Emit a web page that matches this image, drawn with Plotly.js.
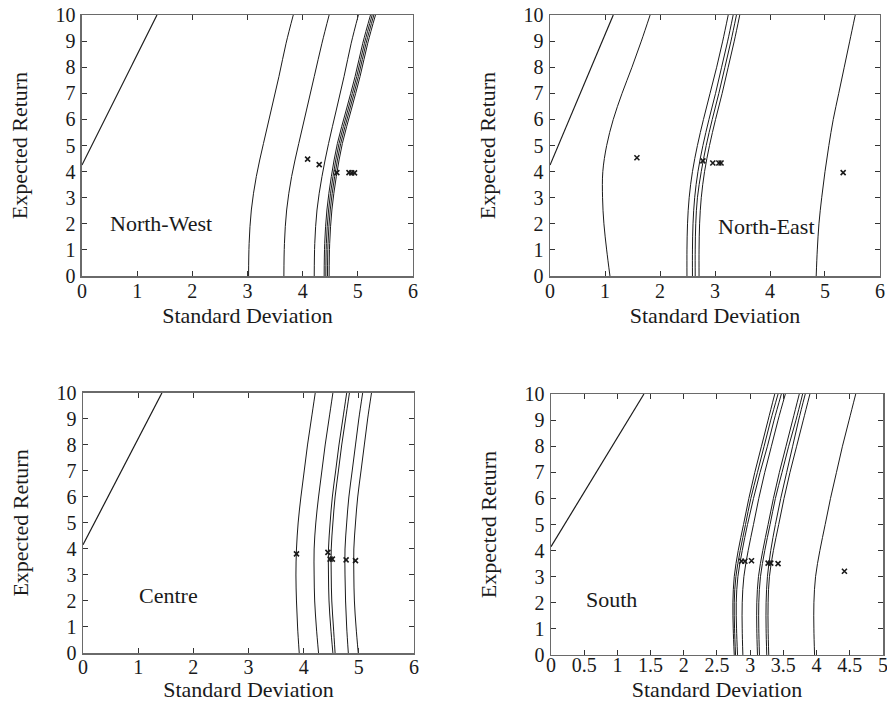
<!DOCTYPE html>
<html>
<head>
<meta charset="utf-8">
<script src="https://cdn.plot.ly/plotly-3.0.1.min.js"></script>
<style>html,body{margin:0;padding:0;background:#fff;}#chart{width:887px;height:702px;}</style>
</head>
<body>
<div id="chart"></div>
<script>
// ---------- North-West ----------
const MU_NW = [0, 1.25, 2.53, 3.81, 5.08, 6.36, 7.64, 8.92, 10];
const NW_1 = [3.02, 3.03, 3.07, 3.16, 3.29, 3.43, 3.57, 3.70, 3.83];
const NW_2 = [3.66, 3.67, 3.71, 3.80, 3.93, 4.07, 4.21, 4.35, 4.48];
const NW_3 = [4.21, 4.22, 4.26, 4.35, 4.47, 4.61, 4.75, 4.88, 5.01];
const NW_4 = [4.39, 4.40, 4.44, 4.52, 4.63, 4.79, 4.95, 5.09, 5.23];
const NW_5 = [4.42, 4.43, 4.47, 4.55, 4.66, 4.82, 4.98, 5.12, 5.26];
const NW_6 = [4.45, 4.46, 4.50, 4.58, 4.69, 4.85, 5.01, 5.15, 5.29];
const NW_7 = [4.48, 4.49, 4.53, 4.61, 4.72, 4.88, 5.04, 5.18, 5.32];
const NW_CML_SD = [0, 1.36];
const NW_CML_RET = [4.25, 10];
const NW_PT_SD = [4.09, 4.30, 4.62, 4.84, 4.89, 4.94];
const NW_PT_RET = [4.48, 4.27, 3.96, 3.96, 3.95, 3.95];

// ---------- North-East ----------
const MU_NE = [0, 1, 2, 3, 4, 5, 6, 7, 8, 9, 10];
const NE_1 = [1.09, 1.03, 0.98, 0.955, 0.96, 1.03, 1.15, 1.31, 1.49, 1.66, 1.82];
const NE_2 = [2.49, 2.49, 2.50, 2.53, 2.59, 2.68, 2.79, 2.91, 3.03, 3.14, 3.24];
const NE_3 = [2.59, 2.59, 2.60, 2.63, 2.69, 2.78, 2.89, 3.01, 3.12, 3.23, 3.33];
const NE_4 = [2.64, 2.64, 2.65, 2.68, 2.75, 2.84, 2.95, 3.07, 3.18, 3.29, 3.39];
const NE_5 = [2.71, 2.71, 2.72, 2.75, 2.81, 2.90, 3.01, 3.13, 3.24, 3.35, 3.45];
const NE_6 = [4.84, 4.86, 4.89, 4.94, 5.00, 5.07, 5.15, 5.25, 5.35, 5.45, 5.55];
const NE_CML_SD = [0, 1.15];
const NE_CML_RET = [4.25, 10];
const NE_PT_SD = [1.58, 2.78, 2.96, 3.07, 3.11, 5.33];
const NE_PT_RET = [4.53, 4.41, 4.33, 4.33, 4.33, 3.96];

// ---------- Centre ----------
const MU_C = [0, 1, 2, 3, 4, 5, 6, 7, 8, 9, 10];
const C_1 = [3.92, 3.89, 3.87, 3.86, 3.87, 3.90, 3.95, 4.01, 4.07, 4.14, 4.21];
const C_2 = [4.27, 4.23, 4.20, 4.19, 4.19, 4.22, 4.27, 4.33, 4.39, 4.46, 4.53];
const C_3 = [4.53, 4.49, 4.46, 4.45, 4.45, 4.48, 4.52, 4.58, 4.64, 4.71, 4.78];
const C_4 = [4.57, 4.54, 4.51, 4.50, 4.50, 4.53, 4.57, 4.63, 4.69, 4.76, 4.83];
const C_5 = [4.81, 4.78, 4.76, 4.75, 4.75, 4.78, 4.82, 4.88, 4.94, 5.00, 5.07];
const C_6 = [4.99, 4.95, 4.92, 4.91, 4.91, 4.94, 4.98, 5.04, 5.10, 5.16, 5.23];
const C_CML_SD = [0, 1.43];
const C_CML_RET = [4.16, 10];
const C_PT_SD = [3.87, 4.44, 4.48, 4.52, 4.77, 4.94];
const C_PT_RET = [3.81, 3.87, 3.61, 3.61, 3.58, 3.55];

// ---------- South ----------
const MU_S = [0, 1, 2, 3, 4, 5, 6, 7, 8, 9, 10];
const S_1 = [2.76, 2.745, 2.74, 2.76, 2.82, 2.90, 2.98, 3.07, 3.17, 3.27, 3.37];
const S_2 = [2.78, 2.765, 2.76, 2.785, 2.85, 2.93, 3.01, 3.11, 3.21, 3.31, 3.42];
const S_3 = [2.81, 2.795, 2.79, 2.815, 2.88, 2.96, 3.05, 3.15, 3.26, 3.36, 3.47];
const S_4 = [2.89, 2.88, 2.88, 2.905, 2.97, 3.05, 3.13, 3.22, 3.32, 3.42, 3.53];
const S_5 = [3.11, 3.10, 3.10, 3.125, 3.19, 3.27, 3.35, 3.44, 3.54, 3.64, 3.74];
const S_6 = [3.14, 3.13, 3.13, 3.155, 3.22, 3.30, 3.38, 3.48, 3.58, 3.69, 3.79];
const S_7 = [3.25, 3.24, 3.24, 3.26, 3.31, 3.38, 3.46, 3.55, 3.64, 3.73, 3.83];
const S_8 = [3.28, 3.27, 3.27, 3.29, 3.35, 3.43, 3.51, 3.60, 3.70, 3.80, 3.90];
const S_9 = [3.97, 3.96, 3.96, 3.985, 4.05, 4.13, 4.21, 4.30, 4.39, 4.49, 4.59];
const S_CML_SD = [0, 1.40];
const S_CML_RET = [4.15, 10];
const S_PT_SD = [2.87, 2.92, 3.02, 3.27, 3.31, 3.42, 4.42];
const S_PT_RET = [3.59, 3.59, 3.61, 3.52, 3.52, 3.50, 3.21];

const PANEL_NAMES = ['North-West', 'North-East', 'Centre', 'South'];
const X_TITLE = 'Standard Deviation';
const Y_TITLE = 'Expected Return';

const INK = '#1a1a1a';
const FONT = 'Liberation Serif, DejaVu Serif, serif';

function frontier(sd, mu, ax) {
  return {x: sd, y: mu, xaxis: 'x' + ax, yaxis: 'y' + ax, type: 'scatter', mode: 'lines',
    line: {color: INK, width: 1, shape: 'spline', smoothing: 1}, showlegend: false};
}
function cml(sd, mu, ax) {
  return {x: sd, y: mu, xaxis: 'x' + ax, yaxis: 'y' + ax, type: 'scatter', mode: 'lines',
    line: {color: INK, width: 1.2}, showlegend: false};
}
function pts(sd, mu, ax) {
  return {x: sd, y: mu, xaxis: 'x' + ax, yaxis: 'y' + ax, type: 'scatter', mode: 'markers',
    marker: {symbol: 'x-thin-open', size: 5, color: INK, line: {color: INK, width: 1.6}}, showlegend: false};
}

const traces = [];
[NW_1, NW_2, NW_3, NW_4, NW_5, NW_6, NW_7].forEach(s => traces.push(frontier(s, MU_NW, '')));
traces.push(cml(NW_CML_SD, NW_CML_RET, ''));
traces.push(pts(NW_PT_SD, NW_PT_RET, ''));
[NE_1, NE_2, NE_3, NE_4, NE_5, NE_6].forEach(s => traces.push(frontier(s, MU_NE, '2')));
traces.push(cml(NE_CML_SD, NE_CML_RET, '2'));
traces.push(pts(NE_PT_SD, NE_PT_RET, '2'));
[C_1, C_2, C_3, C_4, C_5, C_6].forEach(s => traces.push(frontier(s, MU_C, '3')));
traces.push(cml(C_CML_SD, C_CML_RET, '3'));
traces.push(pts(C_PT_SD, C_PT_RET, '3'));
[S_1, S_2, S_3, S_4, S_5, S_6, S_7, S_8, S_9].forEach(s => traces.push(frontier(s, MU_S, '4')));
traces.push(cml(S_CML_SD, S_CML_RET, '4'));
traces.push(pts(S_PT_SD, S_PT_RET, '4'));

function xax(domain, anchor, range, dtick, lblOff) {
  return {domain: domain, anchor: anchor, range: range, dtick: dtick, tick0: 0,
    showgrid: false, zeroline: false, showline: true, mirror: 'ticks', linecolor: '#6a6a6a', linewidth: 1.5,
    ticks: 'inside', ticklen: 5, tickwidth: 1, tickcolor: '#333',
    tickfont: {family: FONT, size: 20, color: INK}, ticklabelstandoff: lblOff, ticklabeloverflow: 'allow',
    title: {text: X_TITLE, font: {family: FONT, size: 22, color: INK}, standoff: 7}};
}
function yax(domain, anchor) {
  return {domain: domain, anchor: anchor, range: [0, 10], dtick: 1, tick0: 0,
    showgrid: false, zeroline: false, showline: true, mirror: 'ticks', linecolor: '#6a6a6a', linewidth: 1.5,
    ticks: 'inside', ticklen: 5, tickwidth: 1, tickcolor: '#333',
    tickfont: {family: FONT, size: 20, color: INK}, ticklabelstandoff: 1,
    title: {text: Y_TITLE, font: {family: FONT, size: 22, color: INK}, standoff: 22}};
}

function label(text, ax, x, y) {
  return {text: text, xref: 'x' + ax, yref: 'y' + ax, x: x, y: y, xanchor: 'left', yanchor: 'middle',
    showarrow: false, font: {family: FONT, size: 22, color: INK}};
}

const layout = {
  width: 887, height: 702,
  margin: {l: 0, r: 0, t: 0, b: 0},
  paper_bgcolor: '#fff', plot_bgcolor: '#fff',
  font: {family: FONT, size: 20, color: INK},
  showlegend: false,
  xaxis: xax([0.0924, 0.4656], 'y', [0, 6], 1, -4),
  yaxis: yax([0.6068, 0.9786], 'x'),
  xaxis2: xax([0.6201, 0.9921], 'y2', [0, 6], 1, -4),
  yaxis2: yax([0.6068, 0.9786], 'x2'),
  xaxis3: xax([0.0936, 0.4667], 'y3', [0, 6], 1, -5),
  yaxis3: yax([0.0698, 0.4402], 'x3'),
  xaxis4: xax([0.6212, 0.9955], 'y4', [0, 5.001], 0.5, -8),
  yaxis4: yax([0.0670, 0.4387], 'x4'),
  annotations: [
    label(PANEL_NAMES[0], '', 0.48, 2.0),
    label(PANEL_NAMES[1], '2', 3.02, 1.9),
    label(PANEL_NAMES[2], '3', 0.97, 2.2),
    label(PANEL_NAMES[3], '4', 0.5, 2.13)
  ]
};

Plotly.newPlot('chart', traces, layout, {staticPlot: true, displayModeBar: false});
</script>
</body>
</html>
